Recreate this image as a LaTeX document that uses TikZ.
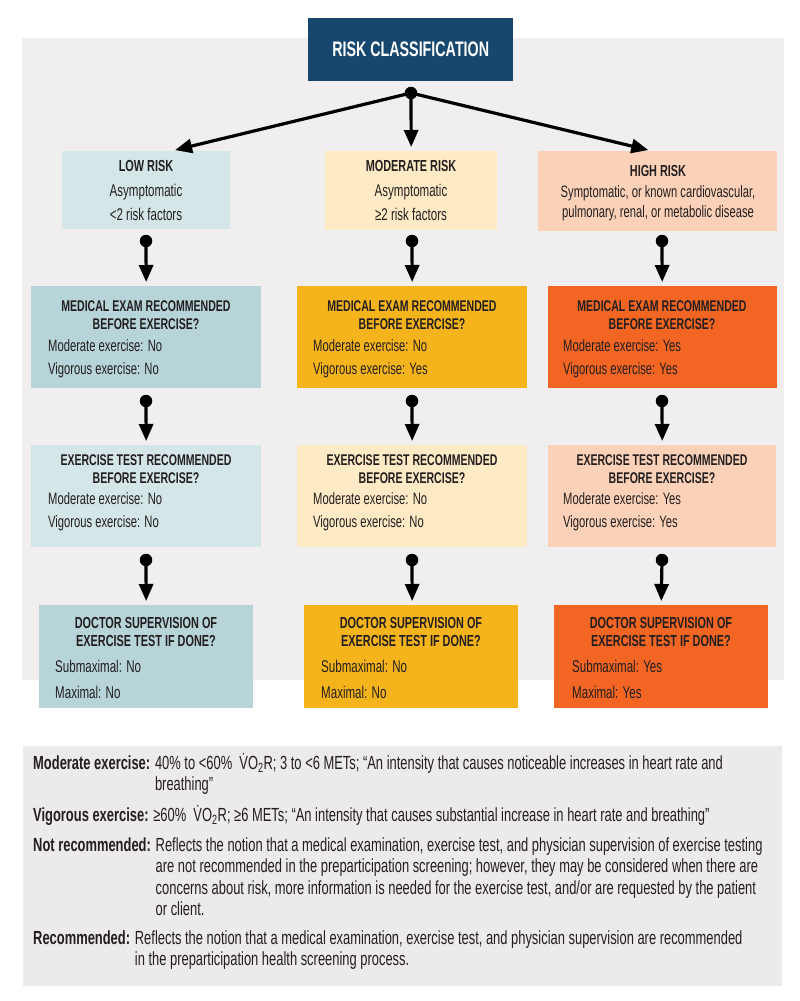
\documentclass[tikz,border=0pt]{standalone}
\usepackage{fontspec}
\setmainfont{Liberation Sans}[FakeStretch=0.68]
\usetikzlibrary{arrows.meta}
\definecolor{navy}{HTML}{17476F}
\definecolor{panelgray}{HTML}{F0EEEF}
\definecolor{legendgray}{HTML}{ECEAEB}
\definecolor{tealdark}{HTML}{B7D4D8}
\definecolor{teallight}{HTML}{D4E6E7}
\definecolor{golddark}{HTML}{F5B41C}
\definecolor{creamlight}{HTML}{FEEAC5}
\definecolor{orangedark}{HTML}{F26522}
\definecolor{peachlight}{HTML}{FBD1B8}
\definecolor{ink}{HTML}{231F20}
\tikzset{
  box/.style={rectangle, inner sep=0pt, anchor=north west},
  headtxt/.style={font=\bfseries\fontsize{15.5}{18}\selectfont, align=center, text=ink, inner sep=0pt},
  bodytxt/.style={font=\fontsize{16.5}{23}\selectfont, align=left, text=ink, inner sep=0pt, anchor=west},
  risktitle/.style={font=\bfseries\fontsize{16}{19}\selectfont, align=center, text=ink, inner sep=0pt},
  riskbody/.style={font=\fontsize{17}{24}\selectfont, align=center, text=ink, inner sep=0pt},
  knob/.style={circle, fill=black, inner sep=0pt, minimum size=12.5pt},
  flow/.style={line width=3.2pt, -{Triangle[length=17pt,width=14pt]}, shorten >=4pt},
  legtxt/.style={font=\fontsize{19}{21.5}\selectfont, text=ink, inner sep=0pt, anchor=base west}
}
\begin{document}
\begin{tikzpicture}[x=1pt,y=-1pt]
\useasboundingbox (0,0) rectangle (800,1001);
\fill[white] (0,0) rectangle (800,1001);
\fill[panelgray] (22,38) rectangle (784,680);
\fill[legendgray] (23,746) rectangle (782,986);

% top box
\node[box, fill=navy, minimum width=205pt, minimum height=63pt] (top) at (308,18) {};
\node[font=\bfseries\fontsize{21}{24}\selectfont, text=white, inner sep=0pt] (toptxt) at (top.center) {RISK CLASSIFICATION};

% risk boxes
\node[box, fill=teallight, minimum width=168pt, minimum height=78pt] (low) at (62,151) {};
\node[box, fill=creamlight, minimum width=172pt, minimum height=79pt] (mod) at (325,151) {};
\node[box, fill=peachlight, minimum width=239pt, minimum height=80pt] (high) at (538,151) {};
\node[risktitle] (lowt) at (146,166) {LOW RISK};
\node[riskbody] (lowb) at (146,202) {Asymptomatic\\<2 risk factors};
\node[risktitle] (modt) at (411,166) {MODERATE RISK};
\node[riskbody] (modb) at (411,202) {Asymptomatic\\≥2 risk factors};
\node[risktitle] (hight) at (658,171) {HIGH RISK};
\node[riskbody, font=\fontsize{16.5}{20}\selectfont] (highb) at (658,203) {Symptomatic, or known cardiovascular,\\pulmonary, renal, or metabolic disease};

% medical exam row
\node[box, fill=tealdark, minimum width=230pt, minimum height=102pt] (medlow) at (31,286) {};
\node[box, fill=golddark, minimum width=230pt, minimum height=102pt] (medmod) at (297,286) {};
\node[box, fill=orangedark, minimum width=229pt, minimum height=102pt] (medhigh) at (548,286) {};
\node[headtxt] (medlowt) at (146,315) {MEDICAL EXAM RECOMMENDED\\BEFORE EXERCISE?};
\node[headtxt] (medmodt) at (412,315) {MEDICAL EXAM RECOMMENDED\\BEFORE EXERCISE?};
\node[headtxt] (medhight) at (662,315) {MEDICAL EXAM RECOMMENDED\\BEFORE EXERCISE?};
\node[bodytxt] (medlowb) at (48,358.5) {Moderate exercise: No\\Vigorous exercise: No};
\node[bodytxt] (medmodb) at (313,358.5) {Moderate exercise: No\\Vigorous exercise: Yes};
\node[bodytxt] (medhighb) at (563,358.5) {Moderate exercise: Yes\\Vigorous exercise: Yes};

% exercise test row
\node[box, fill=teallight, minimum width=230pt, minimum height=102pt] (exlow) at (31,445) {};
\node[box, fill=creamlight, minimum width=230pt, minimum height=102pt] (exmod) at (297,445) {};
\node[box, fill=peachlight, minimum width=228pt, minimum height=102pt] (exhigh) at (548,445) {};
\node[headtxt] (exlowt) at (146,469.5) {EXERCISE TEST RECOMMENDED\\BEFORE EXERCISE?};
\node[headtxt] (exmodt) at (412,469.5) {EXERCISE TEST RECOMMENDED\\BEFORE EXERCISE?};
\node[headtxt] (exhight) at (662,469.5) {EXERCISE TEST RECOMMENDED\\BEFORE EXERCISE?};
\node[bodytxt] (exlowb) at (48,512) {Moderate exercise: No\\Vigorous exercise: No};
\node[bodytxt] (exmodb) at (313,512) {Moderate exercise: No\\Vigorous exercise: No};
\node[bodytxt] (exhighb) at (563,512) {Moderate exercise: Yes\\Vigorous exercise: Yes};

% doctor row
\node[box, fill=tealdark, minimum width=214pt, minimum height=103pt] (doclow) at (39,605) {};
\node[box, fill=golddark, minimum width=214pt, minimum height=103pt] (docmod) at (304,605) {};
\node[box, fill=orangedark, minimum width=214pt, minimum height=103pt] (dochigh) at (554,605) {};
\node[headtxt, font=\bfseries\fontsize{16}{18}\selectfont] (doclowt) at (146,632) {DOCTOR SUPERVISION OF\\EXERCISE TEST IF DONE?};
\node[headtxt, font=\bfseries\fontsize{16}{18}\selectfont] (docmodt) at (411,632) {DOCTOR SUPERVISION OF\\EXERCISE TEST IF DONE?};
\node[headtxt, font=\bfseries\fontsize{16}{18}\selectfont] (dochight) at (661,632) {DOCTOR SUPERVISION OF\\EXERCISE TEST IF DONE?};
\node[bodytxt, font=\fontsize{17}{26}\selectfont] (doclowb) at (55,679) {Submaximal: No\\Maximal: No};
\node[bodytxt, font=\fontsize{17}{26}\selectfont] (docmodb) at (321,679) {Submaximal: No\\Maximal: No};
\node[bodytxt, font=\fontsize{17}{26}\selectfont] (dochighb) at (572,679) {Submaximal: Yes\\Maximal: Yes};

% connectors
\node[knob] (k0) at (411,93) {};
\draw[flow] (k0.center) -- ([xshift=25pt]low.north);
\draw[flow] (k0.center) -- (mod.north);
\draw[flow] (k0.center) -- ([xshift=-5.5pt]high.north);

\node[knob] (k1) at (146,241) {};
\node[knob] (k2) at (412,241) {};
\node[knob] (k3) at (662,241) {};
\draw[flow] (k1.center) -- (medlow.north);
\draw[flow] (k2.center) -- (medmod.north);
\draw[flow] (k3.center) -- ([xshift=-0.5pt]medhigh.north);

\node[knob] (k4) at (146,401) {};
\node[knob] (k5) at (412,401) {};
\node[knob] (k6) at (662,401) {};
\draw[flow] (k4.center) -- (exlow.north);
\draw[flow] (k5.center) -- (exmod.north);
\draw[flow] (k6.center) -- ([xshift=0pt]exhigh.north);

\node[knob] (k7) at (146,560) {};
\node[knob] (k8) at (412,560) {};
\node[knob] (k9) at (662,560) {};
\draw[flow] (k7.center) -- (doclow.north);
\draw[flow] (k8.center) -- ([xshift=1pt]docmod.north);
\draw[flow] (k9.center) -- (dochigh.north);

% legend
\node[legtxt] (leg1) at (33,769) {\begin{tabular}[t]{@{}l@{ }l@{}}\textbf{Moderate exercise:} & 40\% to <60\%\ \ \.{V}O\textsubscript{2}R; 3 to <6 METs; “An intensity that causes noticeable increases in heart rate and\\ & breathing”\end{tabular}};
\node[legtxt] (leg2) at (33,821) {\begin{tabular}[t]{@{}l@{ }l@{}}\textbf{Vigorous exercise:} & ≥60\%\ \ \.{V}O\textsubscript{2}R; ≥6 METs; “An intensity that causes substantial increase in heart rate and breathing”\end{tabular}};
\node[legtxt] (leg3) at (33,851) {\begin{tabular}[t]{@{}l@{ }l@{}}\textbf{Not recommended:} & Reflects the notion that a medical examination, exercise test, and physician supervision of exercise testing\\ & are not recommended in the preparticipation screening; however, they may be considered when there are\\ & concerns about risk, more information is needed for the exercise test, and/or are requested by the patient\\ & or client.\end{tabular}};
\node[legtxt] (leg4) at (33,944) {\begin{tabular}[t]{@{}l@{ }l@{}}\textbf{Recommended:} & Reflects the notion that a medical examination, exercise test, and physician supervision are recommended\\ & in the preparticipation health screening process.\end{tabular}};
\end{tikzpicture}
\end{document}
